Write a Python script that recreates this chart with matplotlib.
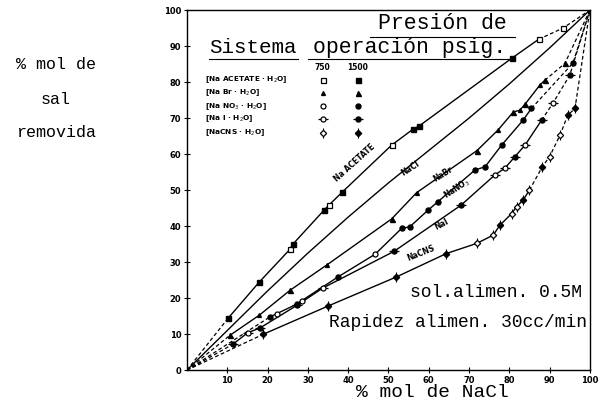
import matplotlib
matplotlib.use("Agg")
import matplotlib.pyplot as plt

# --- data (x = % mol de NaCl, y = % mol de sal removida)
acetate_750_x = [25.6, 35.2, 50.8, 87.3, 93.3]
acetate_750_y = [33.6, 45.8, 62.5, 91.9, 95.0]
acetate_1500_x = [10.2, 17.9, 26.3, 34.0, 38.5, 56.2, 57.6, 80.7]
acetate_1500_y = [14.4, 24.4, 35.0, 44.4, 49.4, 67.0, 67.8, 86.7]

nacl_x = [0, 10, 20, 30, 40, 50, 60, 70, 80, 90, 100]
nacl_y = [0, 11, 22, 32.5, 42.5, 52, 61, 70, 79.5, 89.5, 100]

nabr_750_x = [18.0, 34.7, 57.0, 77.2, 82.6, 87.6]
nabr_750_y = [15.3, 29.2, 49.3, 66.7, 72.2, 79.2]
nabr_1500_x = [10.7, 25.6, 50.8, 72.0, 81.0, 84.0, 88.8, 93.8]
nabr_1500_y = [9.7, 22.2, 42.0, 61.0, 71.7, 74.0, 80.5, 85.2]

nano3_750_x = [22.3, 28.5, 46.7]
nano3_750_y = [15.7, 19.3, 32.2]
nano3_1500_x = [20.6, 27.2, 37.5, 53.3, 55.3, 59.8, 62.3, 71.5, 74.0, 78.1, 83.4, 85.5, 95.8]
nano3_1500_y = [14.8, 18.3, 25.9, 39.4, 39.8, 44.4, 46.8, 55.6, 56.5, 62.5, 69.4, 72.7, 85.3]

nai_750_x = [15.1, 33.7, 76.4, 78.9, 83.9, 90.8]
nai_750_y = [10.4, 22.8, 54.2, 56.1, 62.5, 74.1]
nai_1500_x = [11.4, 18.1, 27.3, 51.4, 68.0, 81.4, 88.0, 95.0]
nai_1500_y = [7.2, 11.7, 18.0, 33.0, 45.8, 59.3, 69.4, 81.9]

nacns_750_x = [71.9, 76.0, 80.6, 81.8, 85.0, 90.0, 92.6]
nacns_750_y = [35.2, 37.5, 43.5, 45.4, 50.0, 59.3, 65.3]
nacns_1500_x = [19.0, 35.0, 52.0, 64.4, 77.7, 83.4, 88.2, 94.5, 96.3]
nacns_1500_y = [10.0, 17.8, 25.9, 32.4, 40.3, 47.2, 56.5, 70.8, 72.7]

x_ticks = [10, 20, 30, 40, 50, 60, 70, 80, 90, 100]
y_ticks = [0, 10, 20, 30, 40, 50, 60, 70, 80, 90, 100]

mono = "Liberation Mono"

fig = plt.figure(figsize=(6.01, 4.05), dpi=100)
ax = fig.add_axes([0.311, 0.086, 0.6705, 0.889])
ax.set_xlim(0, 100)
ax.set_ylim(0, 100)


def curve(xa, ya, xb, yb, split):
    # all points of one system, sorted, with the line ending in the corner (100, 100)
    pts = sorted(zip(xa + xb, ya + yb))
    xs = [p[0] for p in pts]
    ys = [p[1] for p in pts]
    ax.plot([0, xs[0]], [0, ys[0]], "k--", lw=0.9, dashes=(3, 2))
    solid = [(x, y) for x, y in pts if x <= split]
    ax.plot([p[0] for p in solid], [p[1] for p in solid], "k-", lw=1.0)
    rest = [solid[-1]] + [(x, y) for x, y in pts if x > split] + [(100, 100)]
    ax.plot([p[0] for p in rest], [p[1] for p in rest], "k--", lw=0.9, dashes=(3, 2))


curve(acetate_750_x, acetate_750_y, acetate_1500_x, acetate_1500_y, 90)
curve(nabr_750_x, nabr_750_y, nabr_1500_x, nabr_1500_y, 89)
curve(nano3_750_x, nano3_750_y, nano3_1500_x, nano3_1500_y, 86)
curve(nai_750_x, nai_750_y, nai_1500_x, nai_1500_y, 89)
curve(nacns_750_x, nacns_750_y, nacns_1500_x, nacns_1500_y, 85)
ax.plot(nacl_x, nacl_y, "k-", lw=1.0)

ms = 3.6
open_kw = dict(ls="none", mfc="white", mec="k", mew=0.9, ms=ms)
fill_kw = dict(ls="none", color="k", ms=ms)

ax.plot(acetate_750_x, acetate_750_y, "s", **open_kw)
ax.plot(acetate_1500_x, acetate_1500_y, "s", **fill_kw)
ax.plot(nabr_750_x, nabr_750_y, "^", ls="none", color="k", ms=2.8)
ax.plot(nabr_1500_x, nabr_1500_y, "^", **fill_kw)
ax.plot(nano3_750_x, nano3_750_y, "o", **open_kw)
ax.plot(nano3_1500_x, nano3_1500_y, "o", **fill_kw)
ax.plot(nai_750_x, nai_750_y, "_", ls="none", color="k", ms=7, mew=0.9)
ax.plot(nai_750_x, nai_750_y, "o", **open_kw)
ax.plot(nai_1500_x, nai_1500_y, "_", ls="none", color="k", ms=7, mew=0.9)
ax.plot(nai_1500_x, nai_1500_y, "o", **fill_kw)
ax.plot(nacns_750_x, nacns_750_y, "|", ls="none", color="k", ms=6.5, mew=0.8)
ax.plot(nacns_750_x, nacns_750_y, "D", ls="none", mfc="white", mec="k", mew=0.9, ms=3.2)
ax.plot(nacns_1500_x, nacns_1500_y, "|", ls="none", color="k", ms=6.5, mew=0.8)
ax.plot(nacns_1500_x, nacns_1500_y, "D", ls="none", color="k", ms=3.2)

# curve names written along the lines
lab = dict(fontsize=5.5, fontweight="bold", ha="center", va="center")
ax.text(41.5, 57.5, "Na ACETATE", rotation=42, **lab)
ax.text(55.5, 56, "NaCl", rotation=33, **lab)
ax.text(63.5, 54.5, "NaBr", rotation=32, **lab)
ax.text(67, 50.5, "NaNO$_3$", rotation=33, **lab)
ax.text(63.3, 40.5, "NaI", rotation=28, **lab)
ax.text(58, 32.5, "NaCNS", rotation=22, **lab)

# header and legend block
ax.text(63.5, 96.3, "Presión de", family=mono, fontsize=15.5, ha="center", va="center")
ax.plot([45.5, 81.5], [92.6, 92.6], "k-", lw=0.8)
ax.text(16.5, 89.7, "Sistema", family=mono, fontsize=15, ha="center", va="center")
ax.text(55.2, 89.7, "operación psig.", family=mono, fontsize=15.5, ha="center", va="center")
ax.plot([5.5, 27.5], [86.3, 86.3], "k-", lw=0.8)
ax.plot([30, 80.5], [86.3, 86.3], "k-", lw=0.8)

ax.text(33.7, 84.2, "750", fontsize=5.5, fontweight="bold", ha="center", va="center")
ax.text(42.4, 84.2, "1500", fontsize=5.5, fontweight="bold", ha="center", va="center")
rows_y = [80.6, 77.0, 73.3, 69.8, 66.0]
rows_txt = ["[Na ACETATE · H$_2$O]", "[Na Br · H$_2$O]", "[Na NO$_3$ · H$_2$O]",
            "[Na I · H$_2$O]", "[NaCNS · H$_2$O]"]
for yy, tt in zip(rows_y, rows_txt):
    ax.text(4.5, yy, tt, fontsize=5.3, fontweight="bold", ha="left", va="center")
ax.plot([33.7], [rows_y[0]], "s", **open_kw)
ax.plot([42.4], [rows_y[0]], "s", **fill_kw)
ax.plot([33.7], [rows_y[1]], "^", ls="none", color="k", ms=2.8)
ax.plot([42.4], [rows_y[1]], "^", **fill_kw)
ax.plot([33.7], [rows_y[2]], "o", **open_kw)
ax.plot([42.4], [rows_y[2]], "o", **fill_kw)
ax.plot([33.7, 42.4], [rows_y[3]] * 2, "_", ls="none", color="k", ms=7, mew=0.9)
ax.plot([33.7], [rows_y[3]], "o", **open_kw)
ax.plot([42.4], [rows_y[3]], "o", **fill_kw)
ax.plot([33.7, 42.4], [rows_y[4]] * 2, "|", ls="none", color="k", ms=6.5, mew=0.8)
ax.plot([33.7], [rows_y[4]], "D", ls="none", mfc="white", mec="k", mew=0.9, ms=3.2)
ax.plot([42.4], [rows_y[4]], "D", ls="none", color="k", ms=3.2)

# operating conditions
ax.text(98, 21.6, "sol.alimen. 0.5M", family=mono, fontsize=13, ha="right", va="center")
ax.text(35.2, 13.3, "Rapidez alimen. 30cc/min", family=mono, fontsize=13, ha="left",
        va="center", clip_on=False)

ax.set_xticks(x_ticks)
ax.set_yticks(y_ticks)
ax.tick_params(direction="inout", length=4, width=0.8, labelsize=6, pad=2)
for t in ax.get_xticklabels() + ax.get_yticklabels():
    t.set_fontweight("bold")
for s in ax.spines.values():
    s.set_linewidth(1.0)

fig.text(0.72, 0.032, "% mol de NaCl", family=mono, fontsize=14, ha="center", va="center")
fig.text(0.093, 0.84, "% mol de", family=mono, fontsize=12, ha="center", va="center")
fig.text(0.093, 0.755, "sal", family=mono, fontsize=12, ha="center", va="center")
fig.text(0.093, 0.672, "removida", family=mono, fontsize=12, ha="center", va="center")

fig.savefig("out.png", dpi=100, facecolor="white")
